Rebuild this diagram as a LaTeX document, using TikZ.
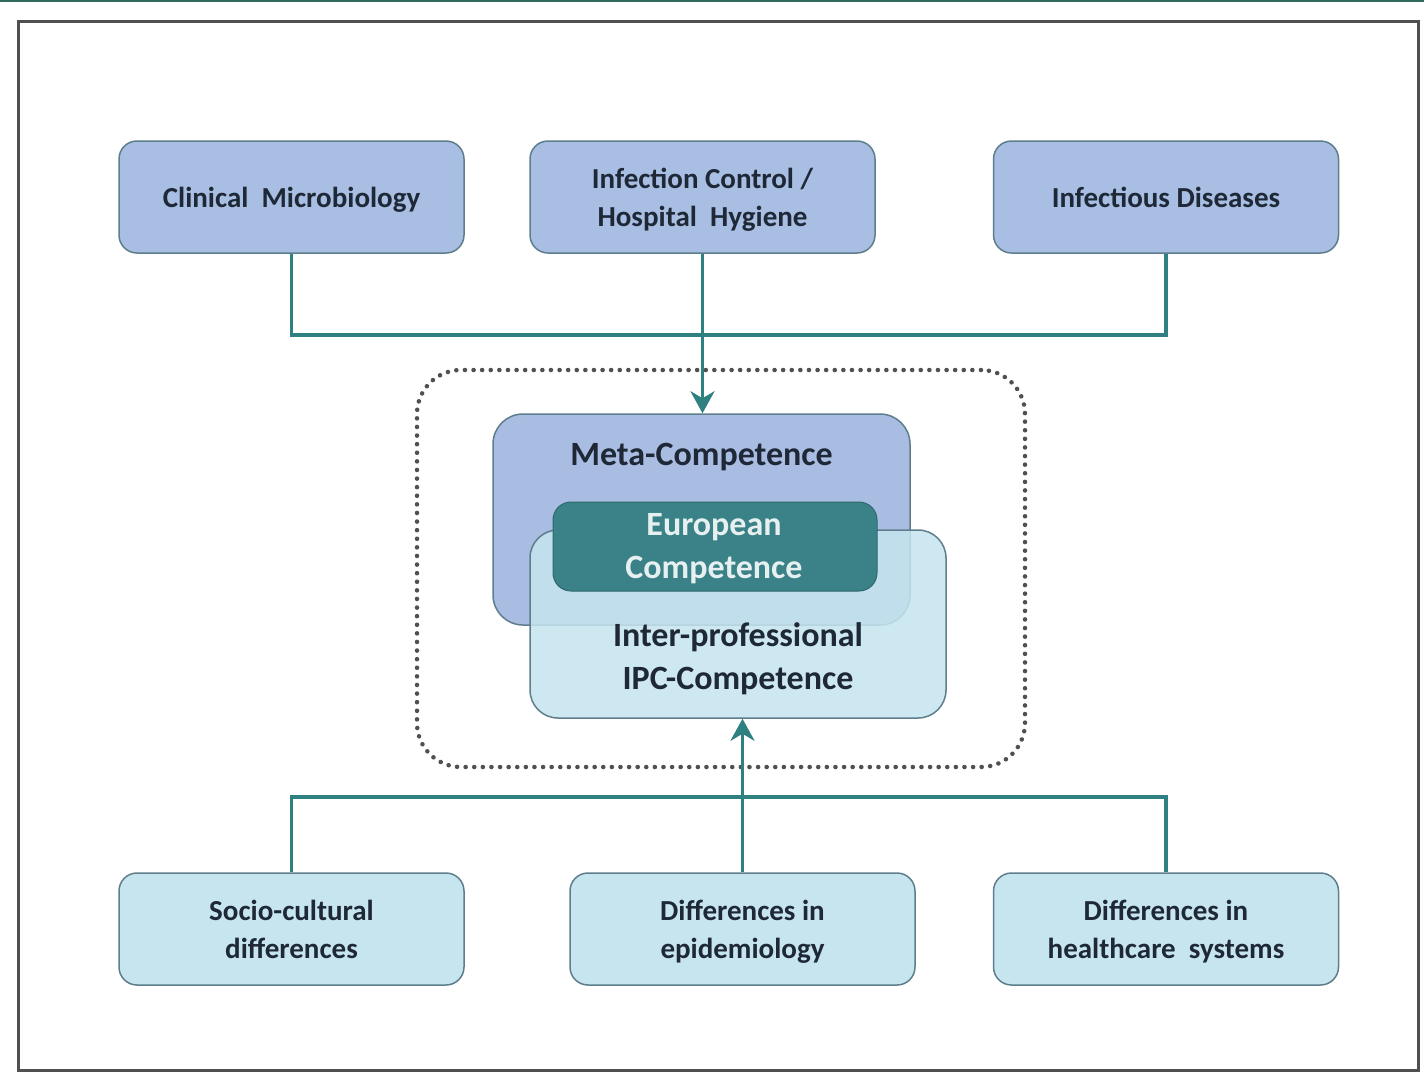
\documentclass[tikz,border=0pt]{standalone}
\usepackage{fontspec}
\setmainfont{Carlito}
\usetikzlibrary{arrows.meta}
\definecolor{topfill}{HTML}{A8BEE3}
\definecolor{metafill}{HTML}{A9BCE2}
\definecolor{botfill}{HTML}{C6E5EF}
\definecolor{boxline}{HTML}{5E7E8C}
\definecolor{teal}{HTML}{2F8080}
\definecolor{eurofill}{HTML}{3A8287}
\definecolor{txt}{HTML}{1E2836}
\definecolor{frame}{HTML}{505050}
\definecolor{topstrip}{HTML}{2E6B5C}
\tikzset{
  basebox/.style={draw=boxline, line width=1.5pt, rounded corners=18pt, align=center, inner sep=0pt, text=txt},
  topbox/.style={basebox, fill=topfill, minimum width=345pt, minimum height=112pt, text depth=0pt, font=\bfseries\fontsize{29}{38}\selectfont},
  botbox/.style={basebox, fill=botfill, minimum width=345pt, minimum height=112pt, text depth=0pt, font=\bfseries\fontsize{29}{38}\selectfont},
  conn/.style={draw=teal, line width=3.5pt},
  arr/.style={conn, -{Stealth[length=22pt, width=24pt, inset=7pt]}},
  bigtxt/.style={font=\bfseries\fontsize{34}{43}\selectfont, text=txt, align=center, inner sep=0pt},
}
\begin{document}
\begin{tikzpicture}[x=1pt, y=-1pt]
\useasboundingbox (0,0) rectangle (1424,1090);
\fill[white] (0,0) rectangle (1424,1090);
\draw[topstrip, line width=2pt] (0,1) -- (1424,1);
\draw[frame, line width=3pt] (18,21) rectangle (1418,1070);

% dotted scope
\node[draw=frame, line width=4.5pt, dash pattern=on 0.1pt off 8.5pt, line cap=round, rounded corners=44pt, minimum width=608pt, minimum height=397pt, inner sep=0pt] (scope) at (721,568.5) {};

% top boxes
\node[topbox] (cm) at (291.5,197) {Clinical\ \ Microbiology};
\node[topbox] (ic) at (702.5,197) {Infection\ Control /\\Hospital\ \ Hygiene};
\node[topbox] (id) at (1166,197) {Infectious Diseases};

% bottom boxes
\node[botbox] (sc) at (291.5,929) {Socio-cultural\\differences};
\node[botbox] (de) at (742.5,929) {Differences in\\epidemiology};
\node[botbox] (hs) at (1166,929) {Differences in\\healthcare\ \ systems};

% central boxes
\node[basebox, fill=metafill, rounded corners=30pt, minimum width=417pt, minimum height=211pt] (meta) at (701.5,519.5) {};
\node[bigtxt] (metatxt) at (701.5,457) {Meta-Competence};
\node[basebox, fill=botfill, fill opacity=0.85, rounded corners=28pt, minimum width=416pt, minimum height=188pt] (ipc) at (738,624) {};
\node[bigtxt] (ipctxt) at (738,659) {Inter-professional\\IPC-Competence};
\node[draw=eurofill!80!black, line width=1pt, fill=eurofill, rounded corners=18pt, minimum width=324pt, minimum height=89pt, inner sep=0pt] (eu) at (715,546.5) {};
\node[bigtxt, text=white!88!teal] (eutxt) at (714,549) {European\\Competence};

% connectors
\coordinate (topbus) at (702.5,335);
\coordinate (botbus) at (742.5,797);
\draw[conn] (cm.south) |- (topbus) -| (id.south);
\draw[arr] (ic.south) -- (ic.south |- meta.north);
\draw[conn] (sc.north) |- (botbus) -| (hs.north);
\draw[arr] (de.north) -- (de.north |- ipc.south);
\end{tikzpicture}
\end{document}
